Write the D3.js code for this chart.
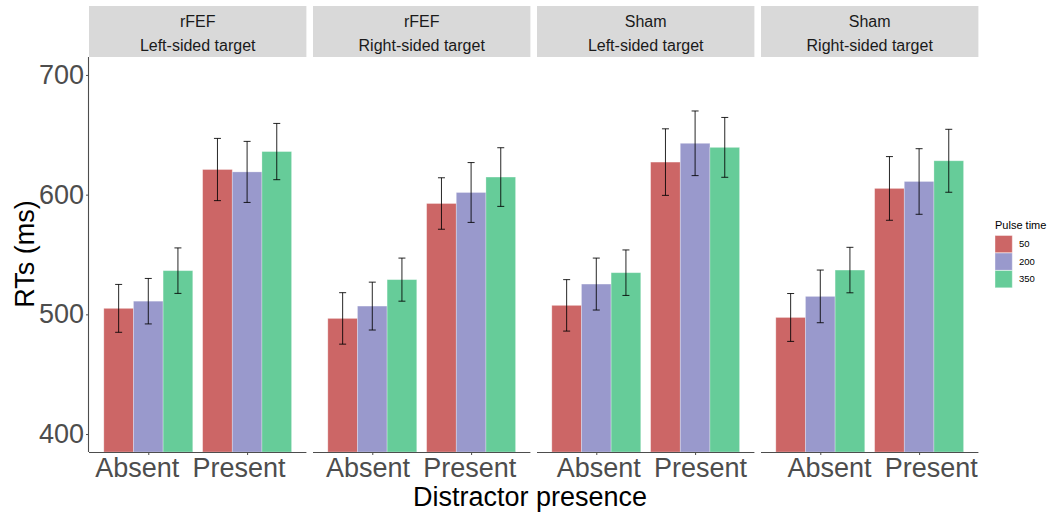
<!DOCTYPE html>
<html>
<head>
<meta charset="utf-8">
<script src="https://cdn.jsdelivr.net/npm/d3@7"></script>
<style>
  body { margin: 0; background: #fff; }
  text { font-family: "Liberation Sans", Arial, sans-serif; }
</style>
</head>
<body>
<svg id="chart" width="1051" height="515"></svg>
<script>
// data
var stimulation = ["rFEF", "rFEF", "Sham", "Sham"];
var targetSide = ["Left-sided target", "Right-sided target", "Left-sided target", "Right-sided target"];
var distractor = ["Absent", "Present"];
var pulseTimes = ["50", "200", "350"];

// per panel: Absent 50/200/350, then Present 50/200/350
var meanRT = [
    [505, 511, 536.5, 621, 619, 636],
    [496.6, 506.9, 529, 592.6, 601.8, 614.7],
    [507.5, 525.3, 534.8, 627.2, 642.9, 639.5],
    [497.4, 515, 537, 605.2, 611, 628.3]
];
var errRT = [
    [20, 19, 19, 26, 25.5, 23.5],
    [21.5, 20, 18, 21.5, 25, 24.5],
    [21.5, 21.7, 19, 27.8, 27, 25],
    [20, 22, 19, 26.6, 27.4, 26.3]
];
var yTicks = [400, 500, 600, 700];
var colors = ["#CC6666", "#9999CC", "#66CC99"];

function draw() {
    var svg = d3.select("#chart");

    var panelW = 217.4, gap = 6.6, left0 = 89;
    var pTop = 57, pBottom = 452;
    var midX = 532;

    var y = d3.scaleLinear().domain([385, 715]).range([pBottom, pTop]);
    var x = d3.scalePoint().domain(distractor).range([0, panelW]).padding(0.6);
    var xs = d3.scaleBand().domain(pulseTimes).range([0, x.step() * 0.9]);
    var color = d3.scaleOrdinal().domain(pulseTimes).range(colors);

    svg.append("defs").append("clipPath").attr("id", "pclip")
        .append("rect").attr("x", 0).attr("y", pTop).attr("width", panelW).attr("height", pBottom - pTop);

    function barX(d) { return x(d.d) - x.step() * 0.45 + xs(d.pulse); }
    function midBar(d) { return barX(d) + xs.bandwidth() / 2; }

    for (var p = 0; p < 4; p++) {
        var px = left0 + p * (panelW + gap);
        var g = svg.append("g").attr("transform", "translate(" + px + ",0)");

        // strip
        g.append("rect").attr("x", 0).attr("y", 6).attr("width", panelW).attr("height", 51)
            .attr("fill", "#D9D9D9");
        g.append("text").attr("x", panelW / 2).attr("y", 26.5).attr("text-anchor", "middle")
            .attr("font-size", 16).attr("fill", "#1A1A1A").text(stimulation[p]);
        g.append("text").attr("x", panelW / 2).attr("y", 51).attr("text-anchor", "middle")
            .attr("font-size", 16).attr("fill", "#1A1A1A").text(targetSide[p]);

        var rows = [];
        for (var i = 0; i < 6; i++) {
            rows.push({
                d: distractor[Math.floor(i / 3)],
                pulse: pulseTimes[i % 3],
                m: meanRT[p][i],
                e: errRT[p][i]
            });
        }

        var barsG = g.append("g").attr("clip-path", "url(#pclip)");
        barsG.selectAll("rect").data(rows).enter().append("rect")
            .attr("x", barX)
            .attr("y", function (d) { return y(d.m); })
            .attr("width", xs.bandwidth())
            .attr("height", function (d) { return pBottom - y(d.m); })
            .attr("fill", function (d) { return color(d.pulse); })
            .attr("stroke", "#ffffff").attr("stroke-opacity", 0.35).attr("stroke-width", 0.8);

        var eb = g.selectAll(".eb").data(rows).enter().append("g")
            .attr("stroke", "#000").attr("stroke-opacity", 0.85).attr("stroke-width", 1);
        eb.append("line")
            .attr("x1", midBar).attr("x2", midBar)
            .attr("y1", function (d) { return y(d.m + d.e); })
            .attr("y2", function (d) { return y(d.m - d.e); });
        [1, -1].forEach(function (s) {
            eb.append("line")
                .attr("x1", function (d) { return midBar(d) - 3.5; })
                .attr("x2", function (d) { return midBar(d) + 3.5; })
                .attr("y1", function (d) { return y(d.m + s * d.e); })
                .attr("y2", function (d) { return y(d.m + s * d.e); });
        });

        // x axis
        var xAxis = g.append("g").attr("transform", "translate(0," + pBottom + ")")
            .call(d3.axisBottom(x).tickSize(3).tickPadding(3));
        xAxis.select(".domain").attr("stroke", "#4D4D4D").attr("stroke-width", 1.1)
            .attr("d", "M0,0.5H" + panelW);
        xAxis.selectAll(".tick line").attr("stroke", "#4D4D4D");
        (function (px) {
            xAxis.selectAll(".tick text").attr("font-size", 27).attr("fill", "#4D4D4D")
                .attr("font-family", "Liberation Sans, Arial, sans-serif").attr("dy", "0.72em")
                .attr("dx", function (d) { return (px + x(d) - midX) * 0.03; });
        })(px);

        if (p === 0) {
            var yAxis = g.append("g")
                .call(d3.axisLeft(y).tickValues(yTicks).tickSize(3).tickPadding(2));
            yAxis.select(".domain").attr("stroke", "#4D4D4D").attr("stroke-width", 1.1)
                .attr("d", "M-0.5," + pTop + "V" + pBottom);
            yAxis.selectAll(".tick line").attr("stroke", "#4D4D4D");
            yAxis.selectAll(".tick text").attr("font-size", 27).attr("fill", "#4D4D4D")
                .attr("font-family", "Liberation Sans, Arial, sans-serif");
        }
    }

    // axis titles
    svg.append("text").attr("x", 530).attr("y", 506).attr("text-anchor", "middle")
        .attr("font-size", 27).attr("fill", "#000").text("Distractor presence");
    svg.append("text").attr("transform", "translate(34,254) rotate(-90)").attr("text-anchor", "middle")
        .attr("font-size", 27).attr("fill", "#000").text("RTs (ms)");

    // legend
    var leg = svg.append("g").attr("transform", "translate(995,0)");
    leg.append("text").attr("x", 0).attr("y", 229).attr("font-size", 11).attr("fill", "#000").text("Pulse time");
    leg.selectAll("rect.key").data(pulseTimes).enter().append("rect")
        .attr("x", 0).attr("y", function (d, i) { return 235.5 + i * 17.5; })
        .attr("width", 17.3).attr("height", 17.3)
        .attr("fill", function (d) { return color(d); })
        .attr("stroke", "#fff").attr("stroke-opacity", 0.4);
    leg.selectAll("text.lab").data(pulseTimes).enter().append("text")
        .attr("x", 24).attr("y", function (d, i) { return 244 + i * 17.5; })
        .attr("dy", "0.35em").attr("font-size", 9.5).attr("fill", "#000").text(function (d) { return d; });
}

draw();
</script>
</body>
</html>
